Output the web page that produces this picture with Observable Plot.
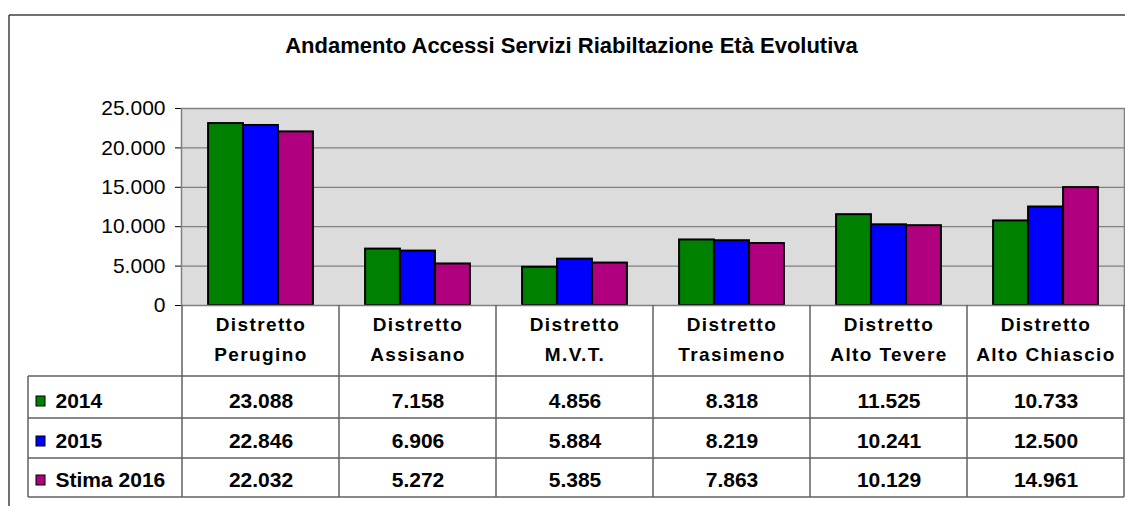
<!DOCTYPE html>
<html>
<head>
<meta charset="utf-8">
<script src="https://cdn.jsdelivr.net/npm/d3@7"></script>
<script src="https://cdn.jsdelivr.net/npm/@observablehq/plot@0.6"></script>
<style>
  html, body { margin: 0; padding: 0; background: #fff; }
  #chart { width: 1125px; height: 506px; }
</style>
</head>
<body>
<div id="chart"></div>
<script>
const title = "Andamento Accessi Servizi Riabiltazione Età Evolutiva";
const categories = [
  "Distretto\nPerugino",
  "Distretto\nAssisano",
  "Distretto\nM.V.T.",
  "Distretto\nTrasimeno",
  "Distretto\nAlto Tevere",
  "Distretto\nAlto Chiascio"
];
const seriesNames = ["2014", "2015", "Stima 2016"];
const v2014 = [23088, 7158, 4856, 8318, 11525, 10733];
const v2015 = [22846, 6906, 5884, 8219, 10241, 12500];
const v2016 = [22032, 5272, 5385, 7863, 10129, 14961];
const yTicks = [0, 5000, 10000, 15000, 20000, 25000];
const colors = ["#008000", "#0000ff", "#b0007f"];

const seriesValues = [v2014, v2015, v2016];
const fmt = d3.formatLocale({decimal: ",", thousands: ".", grouping: [3], currency: ["", "€"]}).format(",d");

const W = 1125, H = 506;
const mL = 181, mR = 1, mT = 108, mB = 201;
const bw = (W - mL - mR) / categories.length;
const barW = 35;
const inset = (bw - barW) / 2;
const barOffsets = [-barW, 0, barW];
const rowBaselines = [102, 142, 181];   // offsets below the zero line
const rowLines = [71, 113, 153, 192];
const font = "'Liberation Sans', Arial, Helvetica, sans-serif";

const marks = [
  Plot.frame({fill: "#dcdcdc", stroke: null}),
  Plot.ruleY(yTicks, {stroke: "#808080", strokeWidth: 1.2})
];
seriesValues.forEach((vals, s) => {
  marks.push(Plot.barY(categories, {
    x: d => d, y: (d, i) => vals[i],
    fill: colors[s], stroke: "#000", strokeWidth: 2,
    insetLeft: inset, insetRight: inset, dx: barOffsets[s]
  }));
});
marks.push(Plot.frame({stroke: "#808080", strokeWidth: 1.5}));
// category header
marks.push(Plot.text(categories, {
  x: d => d, y: () => 0, text: d => d, dy: 55, lineAnchor: "bottom",
  lineHeight: 1.53, fontSize: 19, fontWeight: "bold", fill: "#000"
}));
// values rows
seriesValues.forEach((vals, s) => {
  marks.push(Plot.text(categories, {
    x: d => d, y: () => 0, text: (d, i) => fmt(vals[i]), dy: rowBaselines[s],
    lineAnchor: "bottom", fontSize: 21, fontWeight: "bold", fill: "#000"
  }));
  marks.push(Plot.text([seriesNames[s]], {
    frameAnchor: "bottom-left", dx: 55 - mL, dy: rowBaselines[s], textAnchor: "start",
    lineAnchor: "bottom", fontSize: 21, fontWeight: "bold", fill: "#000"
  }));
});
// title
marks.push(Plot.text([title], {
  frameAnchor: "top-left", dx: 571 - mL, dy: 52 - mT, lineAnchor: "bottom", textAnchor: "middle",
  fontSize: 22, fontWeight: "bold", fill: "#000"
}));

const plot = Plot.plot({
  width: W, height: H,
  marginTop: mT, marginBottom: mB, marginLeft: mL, marginRight: mR,
  style: {fontFamily: font, fontSize: "21px", background: "#fff", color: "#000", overflow: "visible"},
  x: {domain: categories, padding: 0, axis: null},
  y: {domain: [0, 25000], ticks: yTicks, tickFormat: fmt, tickSize: 6, tickPadding: 10, label: null},
  marks
});
document.getElementById("chart").appendChild(plot);

// post-render: table grid, legend keys, outer border
const svg = d3.select(plot);
svg.selectAll('g[font-size="19"] text').style("letter-spacing", "1.4px");
const xs = plot.scale("x");
const ys = plot.scale("y");
const y0 = ys.apply(0);
const xRight = xs.apply(categories[categories.length - 1]) + xs.bandwidth;
const g = svg.append("g").attr("stroke", "#606060").attr("stroke-width", 1.5).attr("fill", "none");
categories.forEach(c => {
  const x = xs.apply(c);
  g.append("line").attr("x1", x).attr("x2", x).attr("y1", y0).attr("y2", y0 + rowLines[3]);
});
g.append("line").attr("x1", xRight).attr("x2", xRight).attr("y1", y0).attr("y2", y0 + rowLines[3]);
rowLines.forEach(o => {
  g.append("line").attr("x1", 28).attr("x2", xRight).attr("y1", y0 + o).attr("y2", y0 + o);
});
g.append("line").attr("x1", 28).attr("x2", 28).attr("y1", y0 + rowLines[0]).attr("y2", y0 + rowLines[3]);
seriesNames.forEach((n, s) => {
  svg.append("rect").attr("x", 36).attr("y", y0 + rowBaselines[s] - 11).attr("width", 9).attr("height", 10)
    .attr("fill", colors[s]).attr("stroke", "#000").attr("stroke-width", 1);
});
// outer chart border
const ob = svg.append("g").attr("stroke", "#404040").attr("stroke-width", 1.5).attr("fill", "none");
ob.append("line").attr("x1", 9).attr("x2", W).attr("y1", 15).attr("y2", 15);
ob.append("line").attr("x1", 9).attr("x2", 9).attr("y1", 15).attr("y2", H);
</script>
</body>
</html>
